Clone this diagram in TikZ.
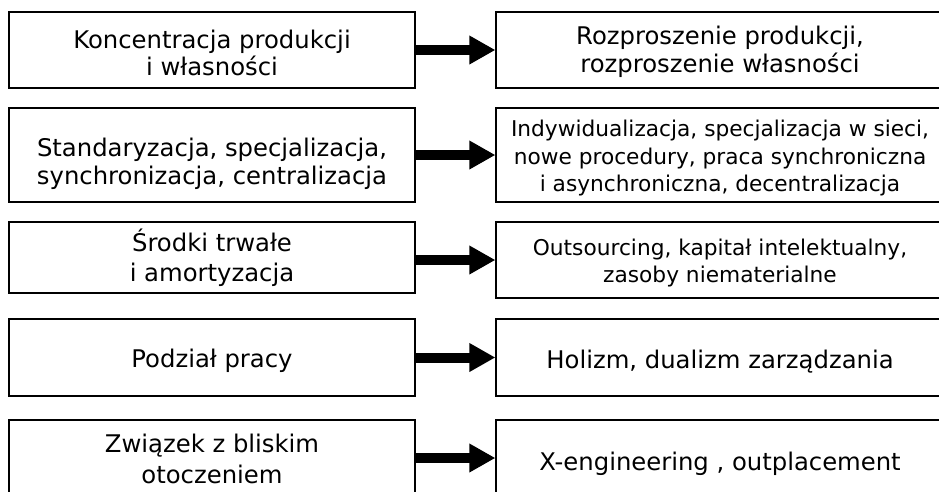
\documentclass[tikz,border=0pt]{standalone}
\usepackage{fontspec}
\setmainfont{DejaVu Sans}
\usetikzlibrary{arrows.meta}

\tikzset{
  box/.style={draw=black, line width=1.2pt, inner sep=0pt},
  leftbox/.style={box, minimum width=406pt},
  rightbox/.style={box, minimum width=448pt},
  txt/.style={inner sep=0pt, align=center, font=\fontsize{24.3pt}{#1}\selectfont},
  txt/.default=27.5pt,
  smalltxt/.style={inner sep=0pt, align=center, font=\fontsize{21.7pt}{#1}\selectfont},
  smalltxt/.default=27.5pt,
  fatarrow/.style={line width=10pt, -{Triangle[length=26pt, width=27pt]}}
}

\begin{document}
\begin{tikzpicture}[x=1pt, y=-1pt]
  \useasboundingbox (0,0) rectangle (939,491);
  \fill[white] (0,0) rectangle (939,491);
  \clip (0,0) rectangle (939,491);

  % left column frames: x from 9 to 415
  \node[leftbox, minimum height=76pt] (L1) at (212,50) {};
  \node[leftbox, minimum height=94pt] (L2) at (212,155) {};
  \node[leftbox, minimum height=71pt] (L3) at (212,257.5) {};
  \node[leftbox, minimum height=77pt] (L4) at (212,357.5) {};
  \node[leftbox, minimum height=76pt] (L5) at (212,458) {};

  % right column frames: x from 496 to 944
  \node[rightbox, minimum height=76pt] (R1) at (720,50) {};
  \node[rightbox, minimum height=94pt] (R2) at (720,155) {};
  \node[rightbox, minimum height=76pt] (R3) at (720,260) {};
  \node[rightbox, minimum height=77pt] (R4) at (720,357.5) {};
  \node[rightbox, minimum height=76pt] (R5) at (720,458) {};

  % left column texts
  \node[txt, yshift=-2.8pt] (L1t) at (L1) {Koncentracja produkcji\\i własności};
  \node[txt=28pt, yshift=-9pt] (L2t) at (L2) {Standaryzacja, specjalizacja,\\synchronizacja, centralizacja};
  \node[txt=30pt] (L3t) at (L3) {Środki trwałe\\i amortyzacja};
  \node[txt, yshift=-3.1pt] (L4t) at (L4) {Podział pracy};
  \node[txt=31pt, yshift=-1.3pt] (L5t) at (L5) {Związek z bliskim\\otoczeniem};

  % right column texts
  \node[txt=28pt, yshift=-1.5pt] (R1t) at (R1) {Rozproszenie produkcji,\\rozproszenie własności};
  \node[smalltxt, yshift=-3.5pt] (R2t) at (R2)
    {Indywidualizacja, specjalizacja w sieci,\\nowe procedury, praca synchroniczna\\i asynchroniczna, decentralizacja};
  \node[smalltxt=27pt, yshift=-2.8pt] (R3t) at (R3) {Outsourcing, kapitał intelektualny,\\zasoby niematerialne};
  \node[txt, yshift=-3.9pt] (R4t) at (R4) {Holizm, dualizm zarządzania};
  \node[txt, yshift=-5.6pt] (R5t) at (R5) {X-engineering , outplacement};

  % arrows between the columns
  \draw[fatarrow] (L1.east) -- (R1.west);
  \draw[fatarrow] (L2.east) -- (R2.west);
  \draw[fatarrow] (L3.east |- R3.west) -- (R3.west);
  \draw[fatarrow] (L4.east) -- (R4.west);
  \draw[fatarrow] (L5.east) -- (R5.west);
\end{tikzpicture}
\end{document}
